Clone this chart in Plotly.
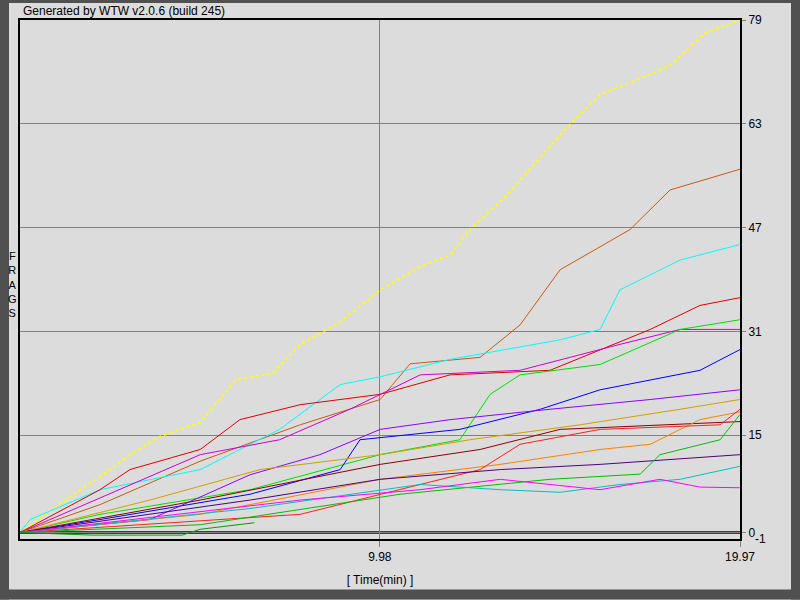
import plotly.graph_objects as go

yellow_t = [0, 1.0, 2.5, 3.05, 3.88, 5.0, 6.0, 7.0, 7.77, 8.9, 9.99, 11.1, 11.93, 12.48, 13.5, 15.26, 16.09, 17.2, 18.03, 19.0, 19.97]
yellow_v = [0, 4.0, 9.7, 12, 14.8, 17, 23.6, 24.5, 29, 32.5, 37.4, 41, 42.8, 46.7, 52, 63, 67.5, 70, 72, 77, 79]
sienna_t = [0, 2.22, 5.0, 7.77, 9.99, 10.82, 12.76, 13.87, 14.98, 16.92, 18.03, 19.97]
sienna_v = [0, 4.3, 11, 16.6, 20.5, 26, 27, 32, 40.5, 46.7, 52.8, 56]
cyan_t = [0, 0.28, 2.22, 5.0, 7.2, 8.88, 9.99, 11.93, 14.98, 16.09, 16.64, 18.31, 19.97]
cyan_v = [0, 2, 6.6, 9.7, 15.9, 22.8, 24, 26.7, 29.7, 31.3, 37.4, 42, 44.4]
red_t = [0, 2.22, 3.05, 5.0, 6.1, 7.77, 9.99, 11.93, 14.7, 17.48, 18.86, 19.97]
red_v = [0, 6.6, 9.7, 12.8, 17.4, 19.7, 21.3, 24.3, 25, 31.3, 35, 36.2]
mag_t = [0, 5.0, 7.2, 9.15, 11.1, 13.87, 16.64, 18.31, 19.97]
mag_v = [0, 12, 14.3, 19, 24.3, 25, 29, 31.3, 31.3]
green_t = [0, 2.22, 6.38, 9.99, 12.2, 13.04, 13.87, 16.09, 18.31, 19.97]
green_v = [0, 2.8, 6.6, 12, 14.3, 21.3, 24.3, 25.9, 31.3, 32.8]
blue_t = [0, 2.22, 6.38, 8.88, 9.43, 12.2, 14.43, 16.09, 18.86, 19.97]
blue_v = [0, 2, 5.9, 9.7, 14.3, 15.9, 19, 22, 25, 28.2]
purple_t = [0, 3.6, 6.38, 8.32, 9.99, 11.93, 14.7, 17.48, 19.97]
purple_v = [0, 2, 8.9, 12, 15.9, 17.4, 19, 20.5, 22]
gold_t = [0, 3.6, 6.66, 9.99, 12.48, 15.53, 18.31, 19.97]
gold_v = [0, 5, 9.7, 12, 14.3, 16.6, 19, 20.5]
dred_t = [0, 5.0, 9.99, 12.76, 14.98, 19.97]
dred_v = [0, 5, 10.5, 12.8, 15.9, 17.1]
orange_t = [0, 5.0, 9.99, 13.32, 16.09, 17.48, 18.86, 19.97]
orange_v = [0, 2.8, 8.2, 10.5, 12.8, 13.6, 17.4, 18.6]
crim_t = [0, 7.77, 12.76, 13.87, 16.09, 19.42, 19.97]
crim_v = [0, 2.8, 9.7, 13.6, 15.9, 16.6, 19]
dpur_t = [0, 6.38, 9.99, 13.32, 16.09, 19.97]
dpur_v = [0, 5, 8.2, 9.7, 10.5, 12]
green2_t = [0, 5.0, 10.54, 14.7, 17.2, 17.75, 19.42, 19.97]
green2_v = [0, 1.2, 5.9, 8.2, 9, 12, 14.3, 18.2]
teal_t = [0, 6.38, 11.1, 13.32, 14.98, 16.64, 18.31, 19.97]
teal_v = [0, 3.7, 7.4, 6.6, 6.2, 7.4, 8.2, 10.2]
mag2_t = [0, 7.77, 11.1, 13.32, 16.09, 17.75, 18.86, 19.97]
mag2_v = [0, 5, 6.6, 8.2, 6.6, 8.2, 7, 6.9]
green3_t = [0, 2.0, 4.5, 5.0, 6.5]
green3_v = [0, -0.4, -0.4, 0.5, 1.5]

series = [
    (yellow_t, yellow_v, "#ffff00", "dot", 2),
    (sienna_t, sienna_v, "#c85a14", "solid", 1),
    (cyan_t, cyan_v, "#00ffff", "solid", 1),
    (red_t, red_v, "#e00000", "solid", 1),
    (mag_t, mag_v, "#d000d0", "solid", 1),
    (green_t, green_v, "#00e000", "solid", 1),
    (blue_t, blue_v, "#0000ff", "solid", 1),
    (purple_t, purple_v, "#9000ff", "solid", 1),
    (gold_t, gold_v, "#d0a000", "solid", 1),
    (dred_t, dred_v, "#900000", "solid", 1),
    (orange_t, orange_v, "#ff8000", "solid", 1),
    (crim_t, crim_v, "#ff2020", "solid", 1),
    (dpur_t, dpur_v, "#500080", "solid", 1),
    (green2_t, green2_v, "#00c000", "solid", 1),
    (teal_t, teal_v, "#00c0c0", "solid", 1),
    (mag2_t, mag2_v, "#ff00ff", "solid", 1),
    (green3_t, green3_v, "#00a000", "solid", 1),
]

fig = go.Figure()
for t, v, c, d, w in series:
    fig.add_trace(go.Scatter(x=t, y=v, mode="lines", line=dict(color=c, width=w, dash=d),
                             showlegend=False, hoverinfo="skip"))

font = dict(family="Liberation Sans, Arial, sans-serif", size=12, color="black")
fig.update_layout(
    width=800, height=600, margin=dict(l=20, r=60, t=20, b=60.5, autoexpand=False),
    paper_bgcolor="#dcdcdc", plot_bgcolor="#dcdcdc", font=font,
    xaxis=dict(range=[0, 19.97], tickvals=[9.98, 19.97], ticktext=["9.98", "19.97"],
               showgrid=True, gridcolor="#808080", gridwidth=1, zeroline=False,
               showline=True, linecolor="black", linewidth=2, mirror=True, automargin=False,
               ticks="outside", ticklen=6, tickcolor="#808080",
               title=dict(text="[ Time(min) ]", font=font, standoff=12)),
    yaxis=dict(range=[-1, 79], side="right", tickvals=[0, 15, 31, 47, 63, 79],
               showgrid=True, gridcolor="#808080", gridwidth=1, zeroline=False,
               showline=True, linecolor="black", linewidth=2, mirror=True, automargin=False,
               ticks="outside", ticklen=4, tickcolor="#808080"),
)
fig.add_hline(y=0, line=dict(color="#404040", width=3), layer="below")
px = lambda x: (x - 20) / 720
py = lambda y: (539.5 - y) / 519.5
shapes = [
    (0, 0, 9, 600), (0, 590, 800, 600), (791, 0, 800, 600), (0, 0, 800, 3),
]
for x0, y0, x1, y1 in shapes:
    fig.add_shape(type="rect", xref="paper", yref="paper", x0=px(x0), x1=px(x1),
                  y0=py(y1), y1=py(y0), fillcolor="#505050", line=dict(width=0), layer="below")
fig.add_annotation(text="Generated by WTW v2.0.6 (build 245)", xref="paper", yref="paper",
                   x=px(21), y=py(2), xanchor="left", yanchor="top", showarrow=False, font=font)
fig.add_annotation(text="-1", xref="paper", yref="paper", x=px(753), y=py(540),
                   xanchor="left", yanchor="middle", showarrow=False, font=font)
fig.add_annotation(text="F<br>R<br>A<br>G<br>S", xref="paper", yref="paper",
                   x=px(12), y=py(285), xanchor="center", yanchor="middle", showarrow=False,
                   font=dict(family="Liberation Sans, Arial, sans-serif", size=11))
fig.write_html("out.html", config={"displayModeBar": False},
               post_script="document.body.style.margin='0';document.body.style.padding='0';")
